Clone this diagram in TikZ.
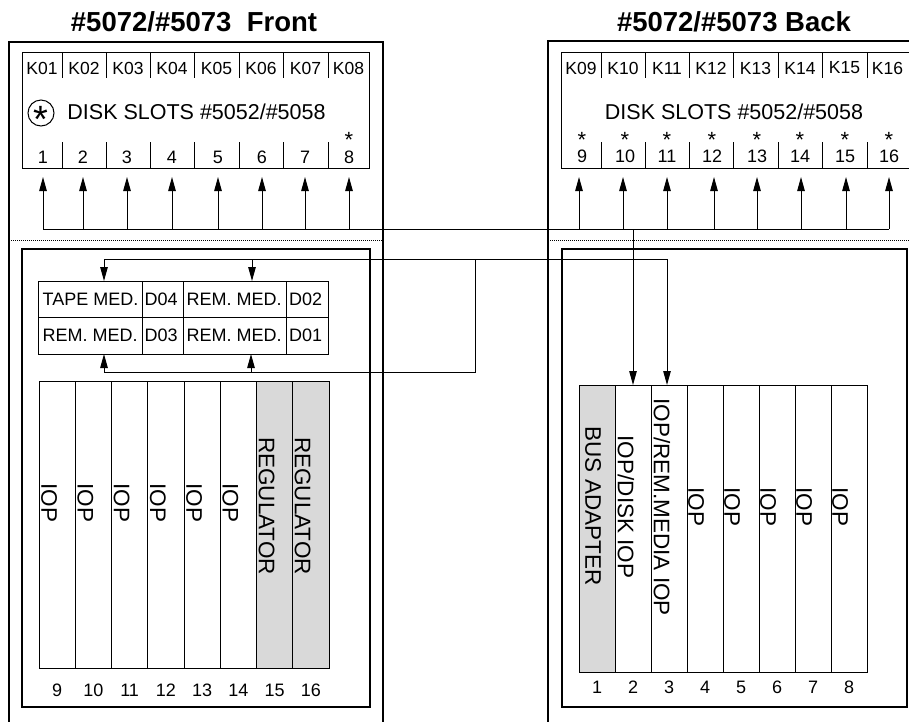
\documentclass[tikz,border=0pt]{standalone}
\usepackage{fontspec}
\setmainfont{Liberation Sans}
\usetikzlibrary{arrows.meta}
\definecolor{cardgray}{RGB}{217,217,217}
\begin{document}
\begin{tikzpicture}[x=1pt,y=-1pt,
  frame/.style={line width=1.2pt},
  wire/.style={line width=1pt},
  arr/.style={line width=1pt,-{Triangle[length=14pt,width=7.5pt]}},
  sep/.style={line width=1pt, dash pattern=on 1pt off 1pt},
  klabel/.style={font=\fontsize{17.5}{17.5}\selectfont, inner sep=0},
  numlab/.style={font=\fontsize{18}{18}\selectfont, inner sep=0},
  starlab/.style={font=\fontsize{22}{22}\selectfont, inner sep=0, anchor=north},
  disklab/.style={font=\fontsize{21.5}{21.5}\selectfont, inner sep=0},
  cardlab/.style={font=\fontsize{22.5}{22.5}\selectfont, inner sep=0, rotate=-90},
  celltext/.style={font=\fontsize{18}{18}\selectfont, inner sep=0, anchor=west},
  title/.style={font=\bfseries\fontsize{27.5}{27.5}\selectfont, inner sep=0},
  fcard/.style={draw, line width=1pt, minimum width=36.25pt, minimum height=287pt, inner sep=0},
  bcard/.style={draw, line width=1pt, minimum width=36pt, minimum height=287pt, inner sep=0},
]
\useasboundingbox (0,0) rectangle (909,721);
\clip (0,0) rectangle (909,721);

% titles
\node[title] (tfront) at (194,22) {\#5072/\#5073\ \ Front};
\node[title] (tback) at (734,22) {\#5072/\#5073 Back};

% outer frames
\draw[frame] (9,730) -- (9,42) -- (383,42) -- (383,730);
\draw[frame] (548,730) -- (548,41) -- (920,41);
\draw[sep] (9,240) -- (383,240);
\draw[sep] (548,240) -- (909,240);

% inner frames
\draw[frame] (22,249) rectangle (370,707);
\draw[frame] (562,249) rectangle (907,707);

% disk slot boxes
\draw[wire] (22,52) rectangle (369,168);
\foreach \x in {62,106,150,194,239,283,328}{
  \draw[wire] (\x,52) -- (\x,78);
  \draw[wire] (\x,142) -- (\x,168);
}
\draw[wire] (915,52) -- (561,52) -- (561,168) -- (915,168);
\foreach \x in {601,645,689,733,778,822,867}{
  \draw[wire] (\x,52) -- (\x,78);
  \draw[wire] (\x,142) -- (\x,168);
}

% K labels
\foreach \x/\t [count=\i] in {42/K01,84/K02,128/K03,172/K04,216.5/K05,261/K06,305.5/K07,348.5/K08}{
  \node[klabel] (kf\i) at (\x,68) {\t};
}
\foreach \x/\t [count=\i] in {581/K09,623/K10,667/K11,711/K12,755.5/K13,800/K14,844.5/K15,887.5/K16}{
  \node[klabel] (kb\i) at (\x,68) {\t};
}

% disk slots text
\node[draw, circle, line width=1pt, minimum size=26pt, inner sep=0] (circ) at (41,113) {};
\node[font=\fontsize{38}{38}\selectfont, inner sep=0, anchor=base] (circstar) at (41,132) {*};
\node[disklab] (dsf) at (196.5,112) {DISK SLOTS \#5052/\#5058};
\node[disklab] (dsb) at (734,112) {DISK SLOTS \#5052/\#5058};

% slot numbers front
\foreach \x [count=\i] in {43,83,127,172,218,262,305,349}{
  \node[numlab] (nf\i) at (\x,157) {\i};
}
\node[starlab] (stf8) at (349,132.5) {*};
% slot numbers back
\foreach \x/\n in {582/9,625/10,667/11,712/12,757/13,800/14,845/15,889/16}{
  \node[numlab] (nb\n) at (\x,156) {\n};
  \node[starlab] (stb\n) at (\x,132.5) {*};
}

% disk bus
\coordinate (busL) at (43,229);
\coordinate (busR) at (889,229);
\draw[wire] (busL) -- (busR);
\foreach \x [count=\i] in {43,83,127,172,218,262,305,349}{
  \coordinate (af\i) at (\x,229);
  \coordinate (tf\i) at (\x,177);
  \draw[arr] (af\i) -- (tf\i);
}
\foreach \x [count=\i] in {579,623,667,714,757,801,846,889}{
  \coordinate (ab\i) at (\x,229);
  \coordinate (tb\i) at (\x,177);
  \draw[arr] (ab\i) -- (tb\i);
}

% media table
\draw[wire] (38.6,281) rectangle (328.6,354);
\draw[wire] (38.6,317) -- (328.6,317);
\foreach \x in {142,183,286}{ \draw[wire] (\x,281) -- (\x,354); }
\node[celltext] (m1) at (42.5,299) {TAPE MED.};
\node[celltext] (m2) at (144.5,299) {D04};
\node[celltext] (m3) at (186.5,299) {REM. MED.};
\node[celltext] (m4) at (289,299) {D02};
\node[celltext] (m5) at (42.5,335.5) {REM. MED.};
\node[celltext] (m6) at (144.5,335.5) {D03};
\node[celltext] (m7) at (186.5,335.5) {REM. MED.};
\node[celltext] (m8) at (289,335.5) {D01};

% front cards
\foreach \k in {0,...,7}{
  \pgfmathsetmacro{\cx}{57.125+36.25*\k}
  \pgfmathtruncatemacro{\n}{9+\k}
  \ifnum\k>5
    \node[fcard, fill=cardgray] (fc\n) at (\cx,524.5) {};
  \else
    \node[fcard] (fc\n) at (\cx,524.5) {};
  \fi
  \node[numlab] (fn\n) at (\cx,690) {\n};
}
\foreach \k in {0,...,5}{
  \pgfmathsetmacro{\lx}{49+36.25*\k}
  \node[cardlab] (fl\k) at (\lx,503) {IOP};
}
\node[cardlab] (fl6) at (266.5,506) {REGULATOR};
\node[cardlab] (fl7) at (302.5,506) {REGULATOR};

% back cards
\foreach \k in {0,...,7}{
  \pgfmathsetmacro{\cx}{597+36*\k}
  \pgfmathtruncatemacro{\n}{1+\k}
  \ifnum\k=0
    \node[bcard, fill=cardgray] (bc\n) at (\cx,528.5) {};
  \else
    \node[bcard] (bc\n) at (\cx,528.5) {};
  \fi
  \node[numlab] (bn\n) at (\cx,687) {\n};
}
\node[cardlab] (bl1) at (593,506) {BUS ADAPTER};
\node[cardlab] (bl2) at (626,507) {IOP/DISK IOP};
\node[cardlab] (bl3) at (662,507) {IOP/REM.MEDIA IOP};
\foreach \k in {3,...,7}{
  \pgfmathsetmacro{\lx}{588+36*\k}
  \node[cardlab] (blx\k) at (\lx,507) {IOP};
}

% disk bus to back card 2
\coordinate (dtap) at (633,229);
\coordinate (dtip) at (633,385);
\draw[arr] (dtap) -- (dtip);

% removable media bus
\coordinate (rtL) at (104,259);
\coordinate (rtM) at (252,259);
\coordinate (rtR) at (667,259);
\coordinate (rbL) at (104,372);
\coordinate (rbM) at (251,372);
\coordinate (rbR) at (475,372);
\coordinate (rtJ) at (475,259);
\draw[wire] (rtL) -- (rtR);
\draw[wire] (rbL) -- (rbR) -- (rtJ);
\draw[arr] (rtL) -- (104,281);
\draw[arr] (rtM) -- (252,281);
\draw[arr] (rtR) -- (667,385);
\draw[arr] (rbL) -- (104,354);
\draw[arr] (rbM) -- (251,354);
\end{tikzpicture}
\end{document}
